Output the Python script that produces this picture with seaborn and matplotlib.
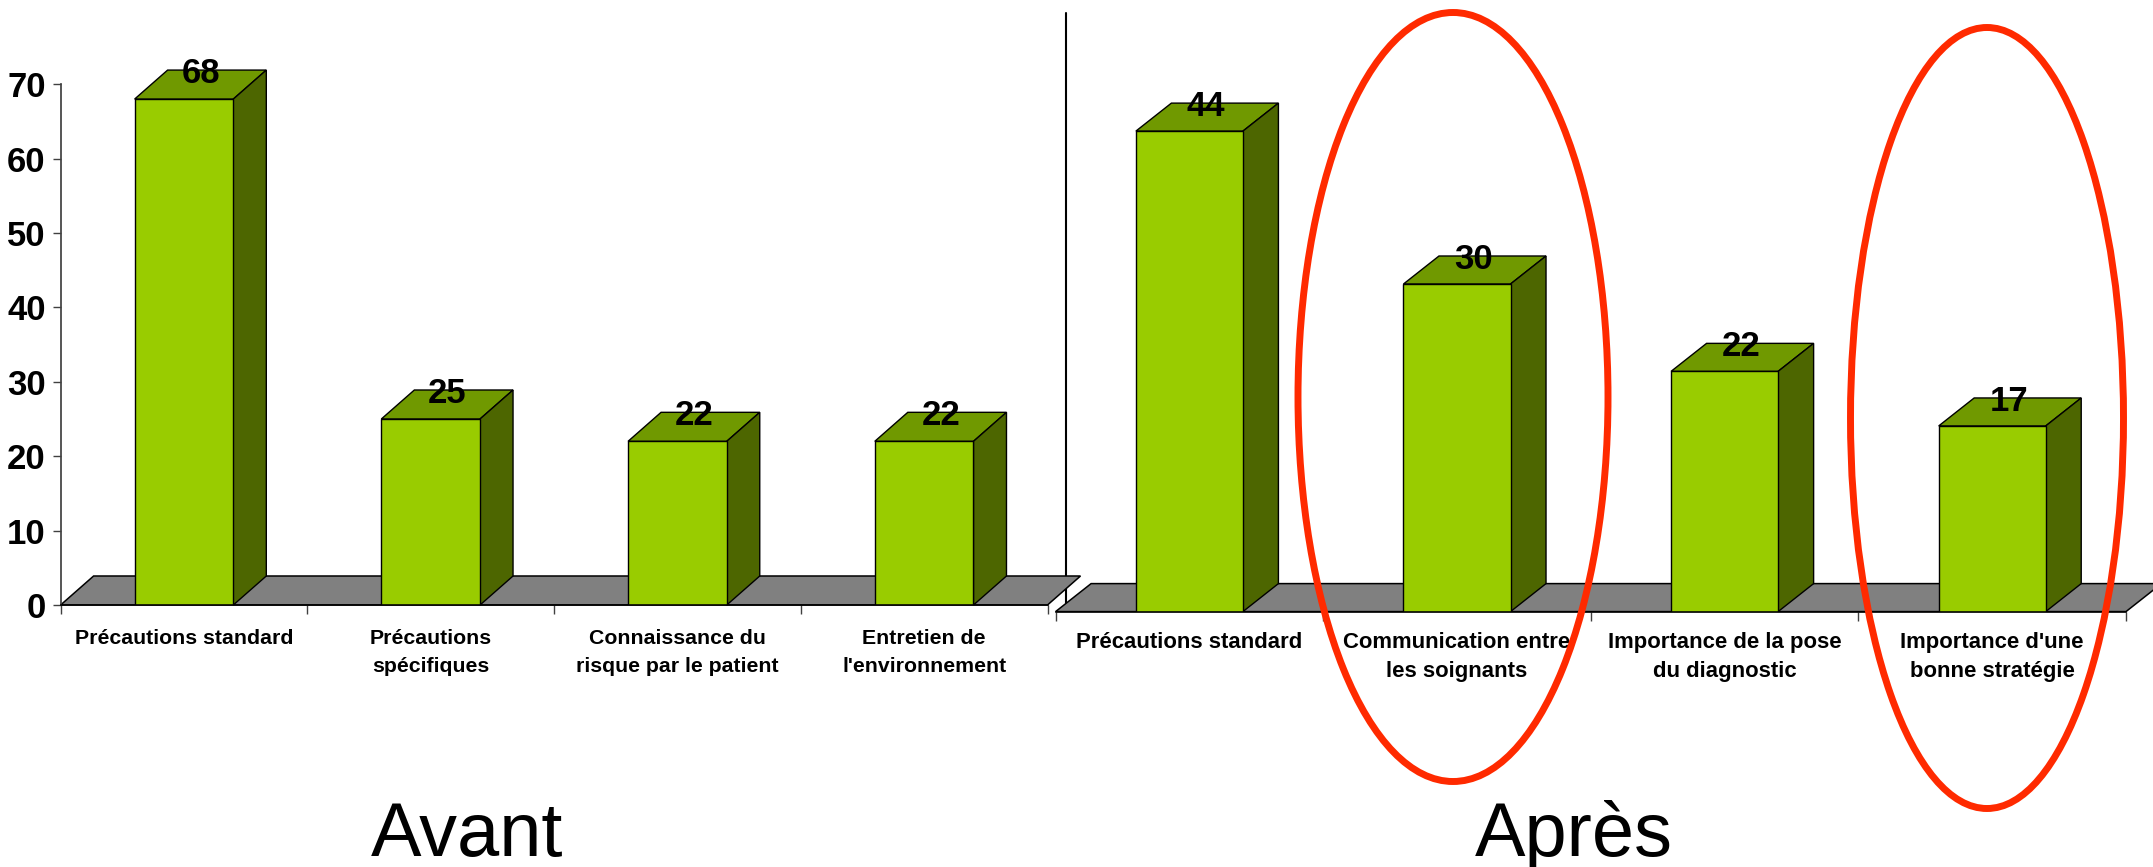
import matplotlib
matplotlib.use("Agg")
import matplotlib.pyplot as plt
import pandas as pd
import seaborn as sns
from matplotlib.patches import Ellipse, Polygon

W, H = 2153, 867

before_labels = ["Précautions standard", "Précautions\nspécifiques",
                 "Connaissance du\nrisque par le patient", "Entretien de\nl'environnement"]
before_values = [68, 25, 22, 22]
after_labels = ["Précautions standard", "Communication entre\nles soignants",
                "Importance de la pose\ndu diagnostic", "Importance d'une\nbonne stratégie"]
after_values = [44, 30, 22, 17]
y_ticks = [0, 10, 20, 30, 40, 50, 60, 70]

FRONT, TOP, SIDE, FLOOR = "#99CC00", "#709900", "#4D6600", "#808080"

sns.set_theme(style="white")
plt.rcParams["font.family"] = ["Liberation Sans", "DejaVu Sans"]
plt.rcParams["text.color"] = "black"


def panel(fig, labels, values, box, per_unit, depth, label_pad, label_size, label_spacing):
    """Pseudo-3D bar panel: box is (left, right, top, zero line) in pixels."""
    left, right, top, zero = box
    ax = fig.add_axes([left / W, 1 - zero / H, (right - left) / W, (zero - top) / H], zorder=2)
    ax.patch.set_alpha(0)
    data = pd.DataFrame({"label": labels, "value": values})
    sns.barplot(data=data, x="label", y="value", ax=ax, color=FRONT, saturation=1,
                width=0.40, edgecolor="black", linewidth=1.0, zorder=4)
    ax.set_xlim(-0.5, 3.5)
    ax.set_ylim(0, (zero - top) / per_unit)
    px_per_cat = (right - left) / 4
    dx = depth[0] / px_per_cat
    dy = depth[1] / per_unit
    ax.add_patch(Polygon([(-0.5, 0), (3.5, 0), (3.5 + dx, dy), (-0.5 + dx, dy)], closed=True,
                         fc=FLOOR, ec="black", lw=1.1, zorder=2, clip_on=False))
    for bar, value in zip(ax.patches[:4], values):
        x0, x1 = bar.get_x(), bar.get_x() + bar.get_width()
        ax.add_patch(Polygon([(x0, value), (x1, value), (x1 + dx, value + dy), (x0 + dx, value + dy)],
                             closed=True, fc=TOP, ec="black", lw=1.0, zorder=3, clip_on=False))
        ax.add_patch(Polygon([(x1, 0), (x1 + dx, dy), (x1 + dx, value + dy), (x1, value)],
                             closed=True, fc=SIDE, ec="black", lw=1.0, zorder=3, clip_on=False))
        ax.annotate(str(value), ((x0 + x1) / 2, value + dy), xytext=(12, -2.5), textcoords="offset points",
                    ha="center", va="center", fontsize=25, fontweight="bold", color="black",
                    zorder=6, annotation_clip=False)
    for name in ("top", "right"):
        ax.spines[name].set_visible(False)
    ax.spines["bottom"].set_color("black")
    ax.spines["bottom"].set_linewidth(1.1)
    ax.spines["bottom"].set_zorder(5)
    ax.set_xlabel("")
    ax.set_ylabel("")
    ax.set_xticks([-0.5, 0.5, 1.5, 2.5, 3.5])
    ax.set_xticklabels([])
    ax.tick_params(axis="x", bottom=True, length=6.5, width=1.0, color="#404040")
    for i, label in enumerate(labels):
        ax.annotate(label, (i, 0), xytext=(0, label_pad), textcoords="offset points", ha="center", va="top",
                    fontsize=label_size, fontweight="bold", linespacing=label_spacing, color="black",
                    annotation_clip=False)
    return ax


fig = plt.figure(figsize=(W / 100, H / 100), dpi=100, facecolor="white")

left_ax = panel(fig, before_labels, before_values, (60.6, 1047.5, 60, 605), 7.44, (33, 29), -17, 15.3, 1.62)
left_ax.set_yticks(y_ticks)
left_ax.set_yticklabels([str(v) for v in y_ticks], fontsize=25, fontweight="bold", color="black")
left_ax.tick_params(axis="y", left=True, length=5.8, width=1.0, color="#404040", pad=5)
left_ax.spines["left"].set_color("#404040")
left_ax.spines["left"].set_bounds(0, 70)

right_ax = panel(fig, after_labels, after_values, (1055.6, 2126, 60, 611.6), 10.92, (35.5, 28), -14.5, 15.9, 1.5)
right_ax.set_yticks([])
right_ax.spines["left"].set_visible(False)

# Divider runs beneath the panels, so the left floor passes over it
divider = fig.add_axes([0, 0, 1, 1], zorder=1)
divider.set_xlim(0, W)
divider.set_ylim(H, 0)
divider.axis("off")
divider.plot([1065.5, 1065.5], [13, 603], color="black", lw=1.5)

# Highlight rings and the two panel captions, in pixel coordinates
overlay = fig.add_axes([0, 0, 1, 1], zorder=10)
overlay.set_xlim(0, W)
overlay.set_ylim(H, 0)
overlay.axis("off")
overlay.add_patch(Ellipse((1453, 397), 310, 769, fc="none", ec="#FF2A00", lw=5))
overlay.add_patch(Ellipse((1987, 418), 273, 781, fc="none", ec="#FF2A00", lw=5))
overlay.text(467.5, 856, "Avant", ha="center", va="baseline", fontsize=54.5, color="black")
overlay.text(1573.5, 856, "Après", ha="center", va="baseline", fontsize=54.5, color="black")

fig.savefig("out.png", dpi=100)
